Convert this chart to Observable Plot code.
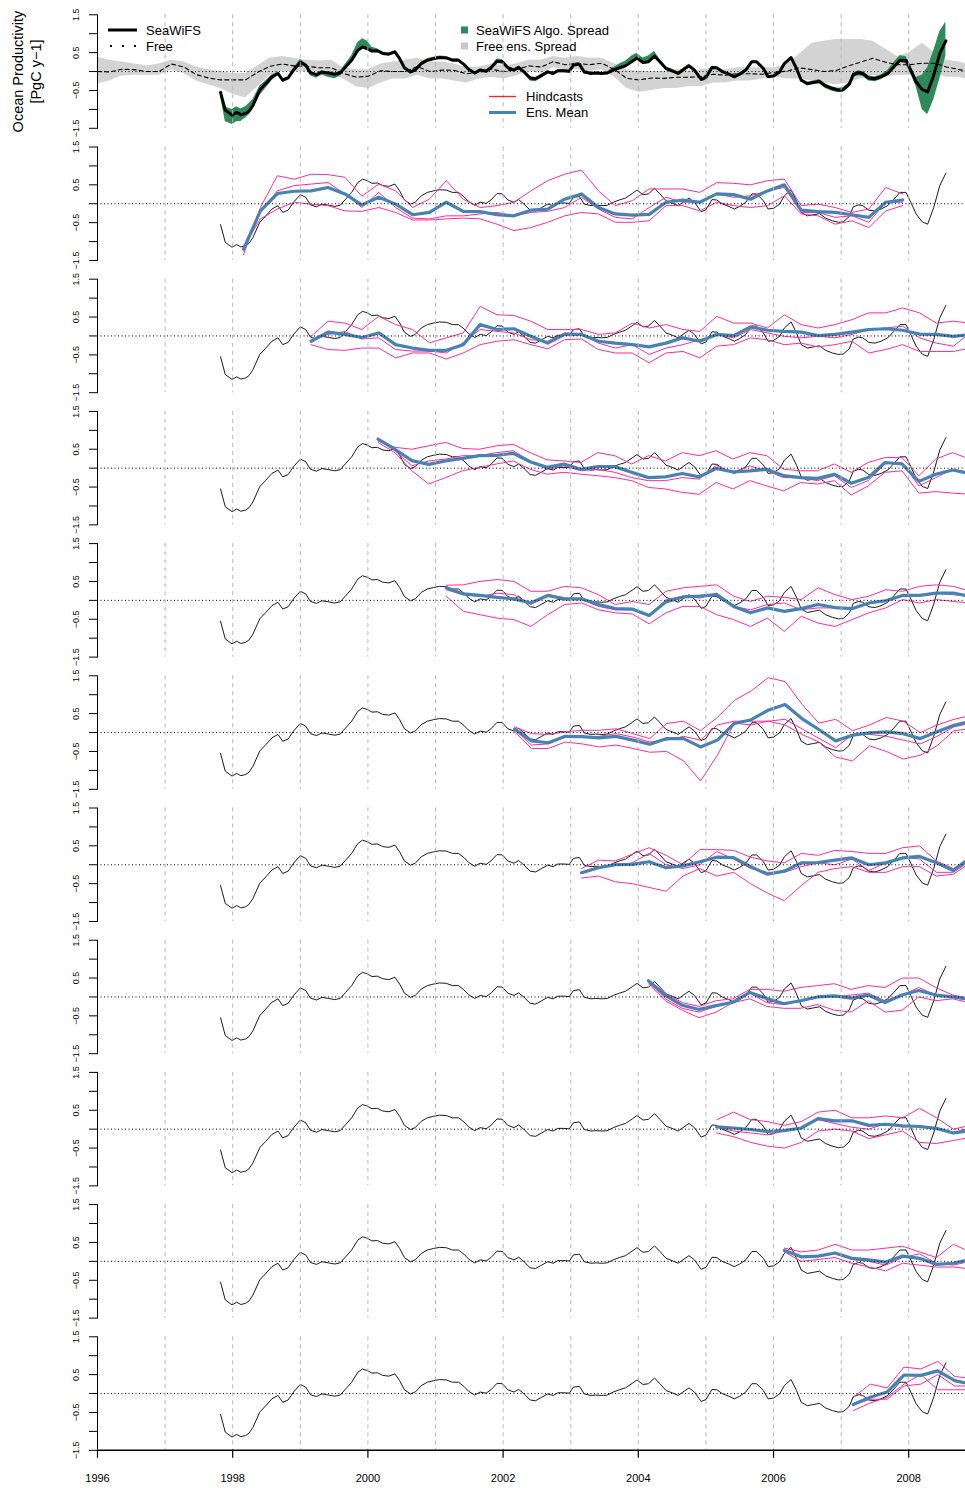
<!DOCTYPE html>
<html>
<head>
<meta charset="utf-8">
<script src="https://cdn.jsdelivr.net/npm/d3@7"></script>
<script src="https://cdn.jsdelivr.net/npm/@observablehq/plot@0.6"></script>
<style>
  html, body { margin: 0; padding: 0; background: #fff; }
  #chart { position: relative; width: 965px; height: 1488px; overflow: hidden; background: #fff; }
</style>
</head>
<body>
<div id="chart"></div>
<script>
// ---------------- DATA ----------------
// SeaWiFS observed anomaly [year, PgC/y]
const seawifs = [
[1997.82,-0.55],[1997.89,-1.02],[1997.99,-1.15],[1998.06,-1.08],[1998.12,-1.14],[1998.19,-1.11],[1998.24,-1.05],[1998.30,-0.89],[1998.40,-0.49],[1998.49,-0.32],
[1998.58,-0.14],[1998.67,-0.05],[1998.74,-0.23],[1998.82,-0.17],[1998.90,0.04],[1999.00,0.24],[1999.08,0.17],[1999.15,-0.03],[1999.24,-0.08],[1999.32,-0.01],
[1999.42,-0.04],[1999.51,-0.07],[1999.59,-0.04],[1999.67,0.12],[1999.76,0.30],[1999.85,0.56],[1999.92,0.65],[1999.99,0.61],[2000.06,0.54],[2000.14,0.55],
[2000.22,0.48],[2000.31,0.46],[2000.40,0.52],[2000.47,0.34],[2000.54,0.10],[2000.63,-0.01],[2000.70,0.04],[2000.79,0.21],[2000.88,0.30],[2000.97,0.34],
[2001.06,0.37],[2001.16,0.36],[2001.25,0.30],[2001.34,0.30],[2001.42,0.19],[2001.49,0.06],[2001.58,-0.04],[2001.66,0.04],[2001.75,0.01],[2001.82,0.10],
[2001.91,0.27],[2001.99,0.26],[2002.07,0.10],[2002.16,0.04],[2002.23,0.11],[2002.31,-0.01],[2002.40,-0.17],[2002.48,-0.19],[2002.57,-0.10],[2002.66,-0.01],
[2002.74,-0.05],[2002.81,0.02],[2002.90,0.02],[2002.98,0.01],[2003.04,0.17],[2003.13,0.19],[2003.20,-0.01],[2003.30,-0.05],[2003.37,-0.04],[2003.46,-0.05],
[2003.54,-0.04],[2003.63,0.04],[2003.72,0.10],[2003.81,0.15],[2003.91,0.27],[2003.98,0.36],[2004.07,0.24],[2004.15,0.26],[2004.24,0.41],[2004.32,0.26],
[2004.41,0.08],[2004.50,0.02],[2004.59,-0.05],[2004.66,0.04],[2004.75,0.15],[2004.83,0.04],[2004.93,-0.21],[2005.00,-0.16],[2005.09,0.11],[2005.16,0.10],
[2005.25,-0.01],[2005.34,-0.07],[2005.42,-0.14],[2005.50,-0.07],[2005.59,0.04],[2005.68,0.26],[2005.75,0.26],[2005.85,0.08],[2005.92,-0.14],[2006.00,-0.12],
[2006.09,-0.01],[2006.16,0.21],[2006.26,0.37],[2006.34,0.08],[2006.41,-0.23],[2006.50,-0.32],[2006.59,-0.29],[2006.68,-0.26],[2006.77,-0.38],[2006.87,-0.45],
[2006.96,-0.49],[2007.03,-0.48],[2007.12,-0.34],[2007.18,-0.08],[2007.26,-0.03],[2007.32,-0.05],[2007.41,-0.17],[2007.50,-0.19],[2007.59,-0.14],[2007.69,-0.05],
[2007.78,0.12],[2007.87,0.30],[2007.96,0.30],[2008.03,0.04],[2008.11,-0.27],[2008.20,-0.48],[2008.28,-0.54],[2008.37,-0.10],[2008.46,0.48],[2008.55,0.81]
];
// SeaWiFS algorithm spread: distance below / above the SeaWiFS value
const algoDown = [
0.10,0.30,0.25,0.25,0.18,0.12,0.10,0.12,0.15,0.12, 0.10,0.05,0.04,0.04,0.03,0.05,0.06,0.08,0.10,0.08,
0.12,0.12,0.08,0.05,0.05,0.05,0.05,0.05,0.04,0.03, 0.03,0.03,0.03,0.03,0.05,0.05,0.05,0.03,0.03,0.03,
0.03,0.03,0.03,0.03,0.05,0.05,0.05,0.03,0.03,0.03, 0.06,0.06,0.04,0.04,0.04,0.04,0.08,0.08,0.08,0.05,
0.05,0.05,0.05,0.05,0.05,0.05,0.05,0.03,0.03,0.03, 0.03,0.04,0.05,0.05,0.05,0.05,0.05,0.05,0.05,0.04,
0.04,0.04,0.04,0.04,0.04,0.04,0.04,0.04,0.03,0.03, 0.03,0.03,0.03,0.03,0.03,0.02,0.02,0.02,0.02,0.02,
0.02,0.02,0.02,0.02,0.04,0.04,0.04,0.07,0.07,0.07, 0.07,0.07,0.08,0.08,0.08,0.08,0.08,0.08,0.08,0.06,
0.06,0.06,0.10,0.10,0.13,0.52,0.60,0.65,0.68,0.40
];
const algoUp = [
0.02,0.08,0.15,0.15,0.15,0.18,0.20,0.15,0.10,0.08, 0.05,0.03,0.03,0.03,0.05,0.08,0.05,0.03,0.02,0.02,
0.02,0.03,0.05,0.08,0.12,0.20,0.22,0.20,0.10,0.05, 0.03,0.03,0.03,0.03,0.03,0.03,0.03,0.04,0.04,0.04,
0.04,0.04,0.04,0.04,0.02,0.02,0.02,0.03,0.03,0.03, 0.06,0.06,0.03,0.03,0.03,0.03,0.03,0.03,0.03,0.03,
0.03,0.03,0.03,0.03,0.05,0.05,0.05,0.03,0.03,0.03, 0.03,0.06,0.10,0.12,0.15,0.12,0.12,0.15,0.12,0.06,
0.04,0.04,0.04,0.04,0.04,0.04,0.04,0.04,0.03,0.03, 0.03,0.03,0.03,0.03,0.03,0.02,0.02,0.02,0.02,0.02,
0.02,0.02,0.02,0.02,0.04,0.04,0.04,0.05,0.05,0.05, 0.05,0.05,0.05,0.05,0.05,0.05,0.05,0.05,0.05,0.08,
0.12,0.12,0.10,0.10,0.12,0.38,0.64,0.65,0.57,0.50
];

// Free run (ensemble mean) and its ensemble spread
const freeT = [1996.00,1996.18,1996.36,1996.55,1996.73,1996.91,1997.09,1997.28,1997.46,1997.64,
1997.82,1998.00,1998.19,1998.37,1998.55,1998.73,1998.91,1999.10,1999.28,1999.46,
1999.64,1999.83,2000.01,2000.19,2000.37,2000.55,2000.73,2000.92,2001.10,2001.28,
2001.46,2001.65,2001.83,2002.01,2002.19,2002.38,2002.56,2002.74,2002.92,2003.10,
2003.28,2003.46,2003.65,2003.83,2004.01,2004.20,2004.38,2004.56,2004.74,2004.93,
2005.11,2005.29,2005.47,2005.65,2005.84,2006.02,2006.20,2006.38,2006.57,2006.75,
2006.93,2007.11,2007.29,2007.47,2007.65,2007.83,2008.01,2008.20,2008.38,2008.56,2008.75,2008.85];
const freeV = [0.0,-0.01,0.06,0.05,0.0,0.0,0.2,0.12,-0.08,-0.17,
-0.22,-0.22,-0.22,-0.02,0.14,0.2,0.15,0.14,0.1,0.1,
-0.05,-0.15,-0.12,0.02,0.0,0.0,0.13,0.0,0.04,0.03,
-0.06,-0.02,0.06,0.0,0.05,0.15,0.12,0.26,0.18,0.22,
0.18,0.22,0.05,-0.18,-0.22,-0.17,-0.18,-0.15,-0.15,-0.14,
-0.07,-0.1,-0.05,-0.06,-0.07,-0.02,0.01,0.1,0.05,0.0,
0.03,0.15,0.25,0.35,0.25,0.18,0.18,0.22,0.22,0.12,0.05,0.02];
const freeHi = [0.38,0.3,0.25,0.2,0.15,0.2,0.3,0.25,0.12,0.05,
0.0,-0.05,-0.05,0.15,0.35,0.4,0.35,0.3,0.28,0.3,
0.1,0.05,0.05,0.2,0.25,0.3,0.35,0.25,0.25,0.2,
0.1,0.12,0.2,0.15,0.2,0.3,0.3,0.4,0.35,0.4,
0.35,0.35,0.2,0.05,0.0,0.0,0.0,0.05,0.02,0.05,
0.1,0.05,0.1,0.1,0.1,0.1,0.2,0.45,0.75,0.8,
0.85,0.85,0.85,0.8,0.6,0.4,0.5,0.75,0.5,0.3,0.25,0.2];
const freeLo = [-0.32,-0.25,-0.12,-0.1,-0.1,-0.1,0.05,-0.05,-0.25,-0.35,
-0.45,-0.6,-0.7,-0.4,-0.1,0.0,0.0,0.0,-0.05,-0.1,
-0.2,-0.4,-0.45,-0.3,-0.2,-0.2,-0.1,-0.2,-0.2,-0.25,
-0.3,-0.2,-0.15,-0.2,-0.12,0.0,-0.05,0.1,0.05,0.05,
0.0,0.05,-0.15,-0.45,-0.55,-0.5,-0.45,-0.45,-0.4,-0.4,
-0.3,-0.3,-0.25,-0.25,-0.2,-0.15,-0.2,-0.2,-0.25,-0.3,
-0.35,-0.3,-0.2,-0.1,-0.15,-0.1,-0.1,-0.15,-0.05,-0.15,-0.15,-0.2];

// Hindcasts: start year of each hindcast (panels 2..11), quarterly values
const hcStep = 0.25;
const hcStart = [1998.16,1999.16,2000.15,2001.16,2002.17,2003.16,2004.15,2005.16,2006.16,2007.18];
const hcMean = [
[-1.2,-0.19,0.27,0.33,0.34,0.43,0.26,-0.03,0.17,-0.01,-0.29,-0.23,0.04,-0.2,-0.21,-0.29,-0.32,-0.17,-0.14,0.12,0.26,-0.1,-0.27,-0.3,-0.28,0.04,0.1,0.04,0.26,0.24,0.12,0.34,0.5,-0.17,-0.21,-0.23,-0.29,-0.36,0.04,0.1],
[-0.14,0.1,0.04,-0.04,0.08,-0.23,-0.32,-0.38,-0.38,-0.23,0.3,0.17,0.19,-0.01,-0.19,0.04,0.04,-0.14,-0.19,-0.23,-0.29,-0.19,-0.05,-0.14,0.04,0.01,0.24,0.15,0.12,0.1,0.01,0.04,0.1,0.17,0.19,0.15,0.05,0.04,-0.01,0.04],
[0.77,0.5,0.2,0.1,0.19,0.26,0.33,0.34,0.39,0.17,0.02,0.11,-0.03,0.04,0.04,-0.11,-0.25,-0.23,-0.14,-0.23,-0.01,-0.1,-0.07,-0.03,-0.2,-0.25,-0.27,-0.16,-0.4,-0.25,0.15,0.11,-0.35,-0.16,-0.05,-0.14],
[0.33,0.17,0.13,0.08,0.04,-0.07,0.13,0.04,0.04,-0.11,-0.22,-0.23,-0.4,-0.04,0.09,0.11,0.15,-0.16,-0.33,-0.2,-0.29,-0.22,-0.11,-0.19,-0.22,-0.07,-0.01,0.13,0.13,0.19,0.19,0.11],
[0.09,-0.22,-0.27,-0.1,-0.11,-0.14,-0.1,-0.2,-0.31,-0.16,-0.16,-0.38,-0.2,0.24,0.34,0.59,0.74,0.37,0.08,-0.22,-0.07,-0.01,0.02,-0.03,-0.16,0.02,0.19,0.3],
[-0.21,-0.08,0.0,0.01,0.08,-0.08,-0.03,0.08,0.2,0.19,-0.05,-0.25,-0.17,0.05,0.06,0.12,0.18,0.0,0.05,0.18,0.22,0.05,-0.15,0.18],
[0.43,0.04,-0.22,-0.33,-0.23,-0.14,0.12,-0.04,-0.18,-0.1,0.0,0.03,-0.03,0.05,-0.15,0.05,0.17,0.05,0.0,-0.06],
[0.06,0.03,-0.01,-0.06,-0.04,0.03,0.28,0.22,0.22,0.1,0.13,0.09,0.07,0.02,-0.1,-0.04],
[0.29,0.12,0.14,0.22,0.08,0.04,-0.02,0.14,0.08,-0.08,-0.05,0.05],
[-0.29,-0.1,0.04,0.49,0.48,0.6,0.34,0.25]
];
const hcA = [
[-1.35,-0.1,0.74,0.65,0.78,0.77,0.7,0.2,0.52,0.34,-0.1,0.12,0.61,0.12,-0.1,-0.05,0.04,0.34,0.61,0.78,0.89,0.34,-0.05,0.08,0.39,0.39,0.39,0.3,0.56,0.54,0.5,0.61,0.65,-0.05,-0.01,-0.1,-0.23,-0.14,0.43,0.26],
[-0.01,0.39,0.34,0.17,0.52,0.3,0.17,-0.18,-0.05,0.08,0.78,0.56,0.54,0.39,0.17,0.17,0.17,0.04,0.08,0.34,0.21,0.3,0.17,0.12,0.52,0.34,0.34,0.21,0.56,0.3,0.21,0.3,0.43,0.61,0.61,0.74,0.61,0.34,0.39,0.34],
[0.72,0.55,0.5,0.59,0.68,0.52,0.5,0.59,0.63,0.41,0.22,0.19,0.15,0.41,0.33,0.11,0.33,0.19,0.41,0.33,0.46,0.24,0.41,0.33,-0.03,-0.07,-0.07,0.11,-0.11,0.15,0.28,0.28,-0.2,0.24,0.41,0.24],
[0.4,0.41,0.5,0.55,0.5,0.24,0.24,0.37,0.33,0.15,-0.11,-0.03,-0.11,0.24,0.33,0.37,0.41,0.11,-0.03,0.11,0.08,0.02,0.33,0.15,0.02,0.11,0.28,0.24,0.37,0.41,0.37,0.24],
[0.15,-0.03,-0.05,0.02,0.06,0.06,0.1,-0.03,-0.16,0.24,0.3,0.05,0.4,0.85,1.1,1.45,1.35,0.75,0.25,0.35,0.05,0.2,0.4,0.3,0.0,0.2,0.35,0.45],
[-0.1,0.12,0.1,0.28,0.45,0.25,0.0,0.4,0.4,0.38,0.2,0.1,0.05,0.3,0.25,0.38,0.35,0.3,0.3,0.45,0.5,0.1,-0.1,0.2],
[0.45,0.1,-0.15,-0.25,-0.1,-0.05,0.2,0.2,0.15,0.25,0.3,0.35,0.2,0.3,0.25,0.5,0.5,0.25,0.05,-0.03],
[0.25,0.45,0.25,0.2,0.1,0.2,0.45,0.5,0.3,0.3,0.35,0.3,0.55,0.3,0.0,0.1],
[0.35,0.25,0.3,0.45,0.3,0.3,0.35,0.4,0.25,0.1,0.45,0.25],
[-0.1,0.25,0.15,0.7,0.65,0.85,0.45,0.4]
];
const hcB = [
[-1.25,-0.23,0.34,0.48,0.52,0.56,0.26,-0.1,0.3,-0.1,-0.38,-0.4,-0.32,-0.32,-0.27,-0.23,-0.32,-0.23,-0.2,-0.1,0.17,-0.14,-0.36,-0.4,-0.1,0.17,0.04,0.04,0.26,0.17,0.21,0.34,0.43,-0.23,-0.23,-0.36,-0.32,-0.49,0.04,0.04],
[-0.14,0.04,0.12,-0.08,-0.05,-0.36,-0.4,-0.4,-0.45,-0.18,0.17,0.12,0.08,-0.1,-0.14,0.08,0.06,-0.19,-0.32,-0.23,-0.49,-0.32,-0.23,-0.1,0.04,-0.05,0.17,0.08,-0.01,-0.05,-0.01,-0.05,0.04,0.17,0.21,0.26,-0.05,-0.19,-0.27,0.08],
[0.77,0.46,0.06,0.19,0.24,0.33,0.33,0.41,0.46,0.19,-0.03,0.06,-0.07,-0.03,-0.11,-0.25,-0.33,-0.33,-0.25,-0.29,0.07,-0.11,0.06,-0.07,-0.25,-0.25,-0.33,-0.2,-0.51,-0.33,0.11,0.15,-0.47,-0.25,-0.03,-0.11],
[0.28,0.15,0.1,0.19,0.15,-0.11,0.15,0.06,0.02,-0.16,-0.25,-0.25,-0.42,0.02,0.11,0.06,0.19,-0.16,-0.25,-0.11,-0.07,-0.25,-0.2,-0.2,-0.2,-0.07,-0.03,0.15,0.15,0.19,0.15,0.11],
[0.08,-0.33,-0.3,-0.1,-0.12,-0.1,-0.03,-0.12,-0.25,-0.2,-0.1,-0.2,0.2,0.3,0.3,0.3,0.35,0.1,-0.15,-0.4,-0.05,-0.05,-0.1,-0.2,-0.3,-0.1,0.15,0.25],
[-0.2,-0.05,0.0,0.05,0.3,0.0,-0.1,0.0,0.35,0.15,-0.1,-0.2,-0.2,-0.05,0.05,0.0,0.15,-0.15,0.05,0.2,0.15,-0.2,-0.2,0.1],
[0.4,-0.05,-0.3,-0.4,-0.25,-0.15,0.1,-0.15,-0.2,-0.1,0.0,0.0,0.05,0.1,-0.1,0.05,0.25,0.05,0.0,-0.1],
[0.05,-0.05,-0.1,-0.15,-0.05,0.05,0.25,0.15,0.05,0.0,0.15,0.05,0.1,0.0,-0.1,0.05],
[0.3,0.1,0.15,0.2,0.05,0.0,-0.1,0.1,0.2,-0.05,-0.1,0.0],
[-0.3,-0.15,-0.15,0.2,0.25,0.5,0.2,0.2]
];
const hcC = [
[-1.15,-0.4,-0.14,0.04,-0.01,-0.05,-0.19,-0.2,-0.1,-0.23,-0.43,-0.43,-0.4,-0.38,-0.4,-0.54,-0.71,-0.63,-0.49,-0.32,-0.23,-0.27,-0.49,-0.49,-0.45,-0.05,-0.05,-0.19,0.04,-0.05,-0.1,-0.05,0.21,-0.27,-0.32,-0.54,-0.45,-0.63,-0.19,-0.05],
[-0.23,-0.36,-0.38,-0.32,-0.32,-0.58,-0.45,-0.45,-0.61,-0.45,-0.23,-0.14,-0.1,-0.23,-0.34,-0.1,-0.08,-0.36,-0.45,-0.45,-0.71,-0.45,-0.41,-0.58,-0.27,-0.23,-0.05,-0.1,-0.23,-0.19,-0.29,-0.23,-0.14,-0.45,-0.36,-0.23,-0.41,-0.41,-0.41,-0.32],
[0.68,0.41,-0.07,-0.42,-0.25,-0.07,0.02,0.11,0.19,-0.03,-0.16,-0.11,-0.16,-0.2,-0.25,-0.33,-0.51,-0.55,-0.64,-0.69,-0.38,-0.55,-0.33,-0.47,-0.6,-0.38,-0.42,-0.33,-0.71,-0.47,-0.11,-0.07,-0.66,-0.62,-0.66,-0.69],
[0.11,-0.29,-0.38,-0.47,-0.51,-0.69,-0.38,-0.11,-0.07,-0.25,-0.33,-0.36,-0.62,-0.33,-0.16,-0.16,-0.38,-0.51,-0.69,-0.47,-0.82,-0.42,-0.6,-0.69,-0.51,-0.33,-0.2,0.02,-0.07,0.02,-0.03,-0.07],
[0.02,-0.42,-0.42,-0.25,-0.3,-0.38,-0.33,-0.42,-0.52,-0.5,-0.75,-1.28,-0.6,0.25,0.2,0.3,0.2,-0.05,-0.25,-0.65,-0.75,-0.35,-0.5,-0.7,-0.6,-0.35,0.05,0.1],
[-0.35,-0.3,-0.45,-0.5,-0.6,-0.7,-0.3,-0.1,-0.3,-0.2,-0.5,-0.75,-0.95,-0.55,-0.2,-0.1,-0.05,-0.2,-0.2,-0.05,-0.05,-0.3,-0.25,0.05],
[0.35,-0.1,-0.35,-0.55,-0.4,-0.15,-0.05,-0.25,-0.3,-0.3,-0.2,-0.35,-0.4,-0.1,-0.4,-0.35,0.0,-0.1,-0.05,-0.15],
[-0.1,-0.2,-0.35,-0.45,-0.5,-0.35,-0.05,0.0,-0.05,-0.25,-0.15,-0.05,-0.35,-0.38,-0.3,-0.22],
[0.25,0.0,0.05,0.1,-0.05,-0.15,-0.25,-0.05,-0.1,-0.15,-0.15,-0.2],
[-0.45,-0.25,-0.1,0.25,0.5,0.1,0.1,0.1]
];

// Axis / tick definitions
const gridYears = [1997,1998,1999,2000,2001,2002,2003,2004,2005,2006,2007,2008];
const xTicks = [1996,1998,2000,2002,2004,2006,2008];
const yTicks = [-1.5,-1,-0.5,0,0.5,1,1.5];
const yLabels = [[-1.5,"\u22121.5"],[-0.5,"\u22120.5"],[0.5,"0.5"],[1.5,"1.5"]];
const yTitle1 = "Ocean Productivity";
const yTitle2 = "[PgC y\u22121]";

// ---------------- TABLES ----------------
const panels = d3.range(11);
const sw = seawifs.map(([t, v], i) => ({t, v, lo: v - algoDown[i], hi: v + algoUp[i], p: 0}));
const free = freeT.map((t, i) => ({t, v: freeV[i], lo: freeLo[i], hi: freeHi[i], p: 0}));
const swThin = d3.range(1, 11).flatMap(p => seawifs.map(([t, v]) => ({t, v, p})));
const members = [], means = [];
hcStart.forEach((s, k) => {
  const p = k + 1;
  [hcA, hcB, hcC].forEach((arr, j) => arr[k].forEach((v, i) => members.push({p, m: j, t: s + hcStep * i, v})));
  hcMean[k].forEach((v, i) => means.push({p, t: s + hcStep * i, v}));
});
const yLab = yLabels.map(([v, s]) => ({v, s}));

const FONT = "'Liberation Sans', Arial, Helvetica, sans-serif";
const PINK = "#ff2a9a", BLUE = "#4682b4", GREEN = "#2e8b57", GREY = "#d3d3d3";

const chart = Plot.plot({
  width: 965,
  height: 1488,
  marginLeft: 97,
  marginRight: 0,
  marginTop: 14.3,
  marginBottom: 38.2,
  style: {fontFamily: FONT, background: "#fff", color: "#000", overflow: "visible"},
  x: {domain: [1996, 2008.84]},
  y: {domain: [-1.5, 1.5]},
  fy: {domain: panels, paddingInner: 0.1415, paddingOuter: 0, round: false, axis: null},
  marks: [
    // top panel: spreads, free run, SeaWiFS
    Plot.areaY(free, {x: "t", y1: "lo", y2: "hi", fy: "p", fill: GREY, clip: true}),
    Plot.areaY(sw, {x: "t", y1: "lo", y2: "hi", fy: "p", fill: GREEN, clip: true}),
    Plot.lineY(free, {x: "t", y: "v", fy: "p", stroke: "#000", strokeWidth: 1.1, strokeDasharray: "4,3", clip: true}),
    // hindcast panels
    Plot.lineY(swThin, {x: "t", y: "v", fy: "p", stroke: "#000", strokeWidth: 0.9, clip: true}),
    Plot.lineY(members, {x: "t", y: "v", z: "m", fy: "p", stroke: PINK, strokeWidth: 1, clip: true}),
    Plot.lineY(means, {x: "t", y: "v", fy: "p", stroke: BLUE, strokeWidth: 3.2, clip: true}),
    Plot.lineY(sw, {x: "t", y: "v", fy: "p", stroke: "#000", strokeWidth: 3, clip: true}),
    // reference lines
    Plot.ruleY([0], {stroke: "#000", strokeWidth: 1, strokeDasharray: "1,2.5"}),
    Plot.ruleX(gridYears, {stroke: "#b5b5b5", strokeWidth: 1, strokeDasharray: "4,4"}),
    // y axes
    Plot.frame({anchor: "left", stroke: "#000", strokeWidth: 1}),
    Plot.axisY({ticks: yTicks, tickSize: 8, tickFormat: () => "", label: null, strokeWidth: 1}),
    Plot.text(yLab, {y: "v", text: "s", frameAnchor: "left", textAnchor: "middle", lineAnchor: "middle", dx: -21, rotate: -90, fontSize: 9, fill: "#000"}),
    Plot.text([{p: 0, v: 0}], {y: "v", fy: "p", text: () => yTitle1, frameAnchor: "left", textAnchor: "middle", lineAnchor: "middle", dx: -79, rotate: -90, fontSize: 14.5, fill: "#000"}),
    Plot.text([{p: 0, v: 0}], {y: "v", fy: "p", text: () => yTitle2, frameAnchor: "left", textAnchor: "middle", lineAnchor: "middle", dx: -61, rotate: -90, fontSize: 14.5, fill: "#000"}),
    // bottom x axis
    Plot.ruleY([{v: -1.5, p: 10}], {y: "v", fy: "p", stroke: "#000", strokeWidth: 1.5}),
    Plot.axisX({ticks: xTicks, tickSize: 8, tickPadding: 16, tickFormat: (d) => String(d), fontSize: 11, label: null, strokeWidth: 1.2, facetAnchor: "bottom"})
  ]
});

const root = document.getElementById("chart");
root.appendChild(chart);

// ---------------- LEGEND (overlay) ----------------
const leg = d3.select(root).append("svg")
  .attr("width", 965).attr("height", 140)
  .style("position", "absolute").style("left", "0px").style("top", "0px")
  .style("font-family", FONT).style("font-size", "13px");
function legText(x, y, s) {
  leg.append("text").attr("x", x).attr("y", y).attr("dominant-baseline", "central").attr("fill", "#000").text(s);
}
leg.append("line").attr("x1", 108).attr("x2", 137).attr("y1", 30).attr("y2", 30).attr("stroke", "#000").attr("stroke-width", 3);
legText(146, 30, "SeaWiFS");
leg.append("line").attr("x1", 110).attr("x2", 137).attr("y1", 46).attr("y2", 46).attr("stroke", "#000").attr("stroke-width", 2).attr("stroke-dasharray", "2,10");
legText(146, 46, "Free");
leg.append("rect").attr("x", 461).attr("y", 26.5).attr("width", 7).attr("height", 7).attr("fill", GREEN);
legText(476, 30, "SeaWiFS Algo. Spread");
leg.append("rect").attr("x", 461).attr("y", 42.5).attr("width", 7).attr("height", 7).attr("fill", "#c8c8c8");
legText(476, 46, "Free ens. Spread");
leg.append("line").attr("x1", 489).attr("x2", 516).attr("y1", 96.5).attr("y2", 96.5).attr("stroke", "#ff2020").attr("stroke-width", 1.3);
legText(526, 96.5, "Hindcasts");
leg.append("line").attr("x1", 489).attr("x2", 516).attr("y1", 112.5).attr("y2", 112.5).attr("stroke", BLUE).attr("stroke-width", 3);
legText(526, 112.5, "Ens. Mean");
</script>
</body>
</html>
